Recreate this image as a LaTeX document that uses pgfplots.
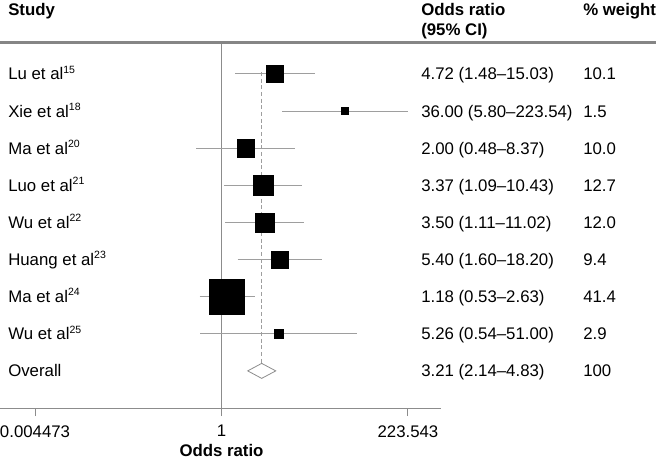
\documentclass[border=0pt]{standalone}
\usepackage{fontspec}
\setmainfont{Liberation Sans}
\usepackage{pgfplots}
\pgfplotsset{compat=1.18}
\usepackage{pgfplotstable}
\definecolor{cigray}{gray}{0.62}
\definecolor{axgray}{gray}{0.55}
\definecolor{hdgray}{gray}{0.52}
\newcommand\tf{\fontsize{12.6pt}{15pt}\selectfont}
\newcommand\sps[1]{\raisebox{5pt}{\fontsize{7.9pt}{8pt}\selectfont #1}}

% y = row (from bottom), or = odds ratio, w = % weight
\pgfplotstableread{
y or w
9 4.72 10.1
8 36.00 1.5
7 2.00 10.0
6 3.37 12.7
5 3.50 12.0
4 5.40 9.4
3 1.18 41.4
2 5.26 2.9
}\studies

\begin{document}
\begin{tikzpicture}
\useasboundingbox (0pt,-39pt) rectangle (492pt,306pt);
\begin{axis}[
  at={(0pt,0pt)}, anchor=south west,
  scale only axis, width=330.75pt, height=274.2pt,
  xmode=log, xmin=0.001619, xmax=583.1,
  ymin=0, ymax=9.85,
  axis x line=bottom, axis y line=none,
  x axis line style={-, draw=axgray, line width=0.75pt},
  xtick={0.004473,1,223.543},
  xticklabels={0.004473,1,223.543},
  ytick=\empty,
  tick align=outside, major tick length=6pt,
  xtick style={draw=axgray, line width=0.75pt},
  xticklabel style={font=\tf, yshift=-3.5pt},
  every axis x label/.style={at={(axis description cs:0.5023,0)}, anchor=center, yshift=-32pt, font=\tf\bfseries},
  xlabel={Odds ratio},
  clip=false,
]
% null line at OR = 1
\addplot[axgray, line width=0.75pt] coordinates {(1,0) (1,9.85)};
% overall estimate dashed line
\addplot[cigray, line width=0.75pt, dash pattern=on 3pt off 2pt] coordinates {(3.21,9.05) (3.21,1.2)};
% confidence intervals
\addplot[cigray, line width=0.75pt] coordinates {(1.48,9) (15.03,9)};
\addplot[cigray, line width=0.75pt] coordinates {(5.80,8) (223.54,8)};
\addplot[cigray, line width=0.75pt] coordinates {(0.48,7) (8.37,7)};
\addplot[cigray, line width=0.75pt] coordinates {(1.09,6) (10.43,6)};
\addplot[cigray, line width=0.75pt] coordinates {(1.11,5) (11.02,5)};
\addplot[cigray, line width=0.75pt] coordinates {(1.60,4) (18.20,4)};
\addplot[cigray, line width=0.75pt] coordinates {(0.53,3) (2.63,3)};
\addplot[cigray, line width=0.75pt] coordinates {(0.54,2) (51.00,2)};
% weighted squares (side proportional to sqrt of weight)
\addplot[scatter, only marks, mark=square*,
  scatter/use mapped color={draw=black, fill=black},
  visualization depends on={2.04*sqrt(\thisrow{w}) \as \msz},
  scatter/@pre marker code/.append style={/tikz/mark size=\msz},
] table[x=or, y=y] {\studies};
% overall diamond
\addplot[draw=axgray, fill=white, line width=0.6pt] coordinates {(2.14,1) (3.21,1.202) (4.83,1) (3.21,0.798)} -- cycle;
\end{axis}
% header line
\draw[hdgray, line width=2.2pt] (0pt,274.2pt) -- (492pt,274.2pt);
% headers
\node[anchor=base west, inner sep=0pt, font=\tf\bfseries] at (6pt,294pt) {Study};
\node[anchor=base west, inner sep=0pt, font=\tf\bfseries] at (315.75pt,294pt) {Odds ratio};
\node[anchor=base west, inner sep=0pt, font=\tf\bfseries] at (315.75pt,279pt) {(95\% CI)};
\node[anchor=base west, inner sep=0pt, font=\tf\bfseries] at (437.25pt,294pt) {\% weight};
% rows
\foreach \i/\a/\b/\c in {
  9/{Lu et al\sps{15}}/{4.72 (1.48–15.03)}/{10.1},
  8/{Xie et al\sps{18}}/{36.00 (5.80–223.54)}/{1.5},
  7/{Ma et al\sps{20}}/{2.00 (0.48–8.37)}/{10.0},
  6/{Luo et al\sps{21}}/{3.37 (1.09–10.43)}/{12.7},
  5/{Wu et al\sps{22}}/{3.50 (1.11–11.02)}/{12.0},
  4/{Huang et al\sps{23}}/{5.40 (1.60–18.20)}/{9.4},
  3/{Ma et al\sps{24}}/{1.18 (0.53–2.63)}/{41.4},
  2/{Wu et al\sps{25}}/{5.26 (0.54–51.00)}/{2.9},
  1/{Overall}/{3.21 (2.14–4.83)}/{100}}{
  \node[anchor=base west, inner sep=0pt, font=\tf] at (6pt,{\i*27.84pt-4.5pt}) {\a};
  \node[anchor=base west, inner sep=0pt, font=\tf] at (315.75pt,{\i*27.84pt-4.5pt}) {\b};
  \node[anchor=base west, inner sep=0pt, font=\tf] at (437.25pt,{\i*27.84pt-4.5pt}) {\c};
}
\end{tikzpicture}
\end{document}
